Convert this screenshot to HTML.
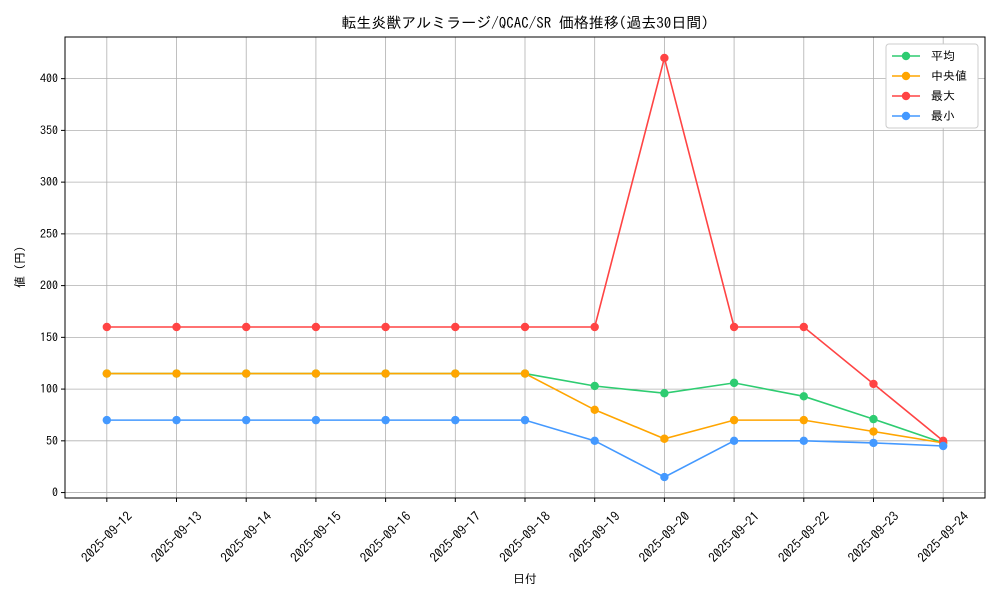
<!DOCTYPE html>
<html><head><meta charset="utf-8">
<style>
body{margin:0;background:#fff;}
svg text{font-family:"IPAGothic","Noto Sans CJK JP","DejaVu Sans",sans-serif;fill:#000;}
</style></head>
<body>
<svg id="chart" width="1000" height="600" xmlns="http://www.w3.org/2000/svg">
<rect width="1000" height="600" fill="#fff"/>
<text x="525" y="28" font-size="15" text-anchor="middle">転生炎獣アルミラージ/QCAC/SR 価格推移(過去30日間)</text>
<g id="grid"></g>
<g id="axes"></g>
<g id="series"></g>
<text x="525" y="583" font-size="12" text-anchor="middle">日付</text>
<text transform="translate(24,267) rotate(-90)" font-size="12" text-anchor="middle">値 (円)</text>
<g id="legend"></g>
</svg>
<script>
const categories=["2025-09-12","2025-09-13","2025-09-14","2025-09-15","2025-09-16","2025-09-17","2025-09-18","2025-09-19","2025-09-20","2025-09-21","2025-09-22","2025-09-23","2025-09-24"];
const avgValues=[115,115,115,115,115,115,115,103,96,106,93,71,48];
const medianValues=[115,115,115,115,115,115,115,80,52,70,70,59,48];
const maxValues=[160,160,160,160,160,160,160,160,420,160,160,105,50];
const minValues=[70,70,70,70,70,70,70,50,15,50,50,48,45];
const yTicks=[0,50,100,150,200,250,300,350,400];
const seriesNames=["平均","中央値","最大","最小"];
const NS="http://www.w3.org/2000/svg";
const L=65,R=985,T=37,B=498;
const allV=[].concat(avgValues,medianValues,maxValues,minValues);
const vmin=Math.min(...allV),vmax=Math.max(...allV),pad=(vmax-vmin)*0.05;
const y0=vmin-pad,y1=vmax+pad;
const n=categories.length,xm=(n-1)*0.05;
function xs(i){return L+(i+xm)/(n-1+2*xm)*(R-L);}
function ys(v){return B-(v-y0)/(y1-y0)*(B-T);}
function el(t,a,p){const e=document.createElementNS(NS,t);for(const k in a)e.setAttribute(k,a[k]);p.appendChild(e);return e;}
const grid=document.getElementById('grid'),axes=document.getElementById('axes'),ser=document.getElementById('series'),leg=document.getElementById('legend');
categories.forEach((c,i)=>{
 const g=el('line',{x1:xs(i),x2:xs(i),y1:T,y2:B,stroke:'#b0b0b0','stroke-width':0.8},grid);
 
 el('line',{x1:xs(i),x2:xs(i),y1:B,y2:B+4,stroke:'#000'},axes);
 const cy=537;
 const t=el('text',{x:xs(i),y:cy,'font-size':13,'text-anchor':'middle','dominant-baseline':'central',transform:`rotate(-45 ${xs(i)} ${cy})`},axes);
 
 t.textContent=c;
});
yTicks.forEach(v=>{
 const g=el('line',{x1:L,x2:R,y1:ys(v),y2:ys(v),stroke:'#b0b0b0','stroke-width':0.8},grid);
 
 el('line',{x1:L-4,x2:L,y1:ys(v),y2:ys(v),stroke:'#000'},axes);
 const t=el('text',{x:L-7,y:ys(v)+4,'font-size':12,'text-anchor':'end'},axes);
 
 t.textContent=v;
});
const fr=el('rect',{x:L,y:T,width:R-L,height:B-T,fill:'none',stroke:'#000','stroke-width':1},axes);

const data=[avgValues,medianValues,maxValues,minValues];
const colors=["#2ecc71","#ffa500","#ff4444","#4499ff"];
const ids=["avg","median","max","min"];
data.forEach((vals,s)=>{
 const pl=el('polyline',{points:vals.map((v,i)=>xs(i)+','+ys(v)).join(' '),fill:'none',stroke:colors[s],'stroke-width':1.6},ser);
 
 vals.forEach((v,i)=>{
  const c=el('circle',{cx:xs(i),cy:ys(v),r:4.2,fill:colors[s]},ser);
  
 });
});
el('rect',{x:886,y:44,width:92,height:84,fill:'#fff',stroke:'#ccc',rx:3},leg);
seriesNames.forEach((nm,s)=>{
 const yy=56+s*20;
 const g=el('g',{},leg);
 
 el('line',{x1:892,x2:920,y1:yy,y2:yy,stroke:colors[s],'stroke-width':1.6},g);
 el('circle',{cx:906,cy:yy,r:4.2,fill:colors[s]},g);
 const t=el('text',{x:931,y:yy+4,'font-size':12},g);t.textContent=nm;
});
</script>
</body></html>
